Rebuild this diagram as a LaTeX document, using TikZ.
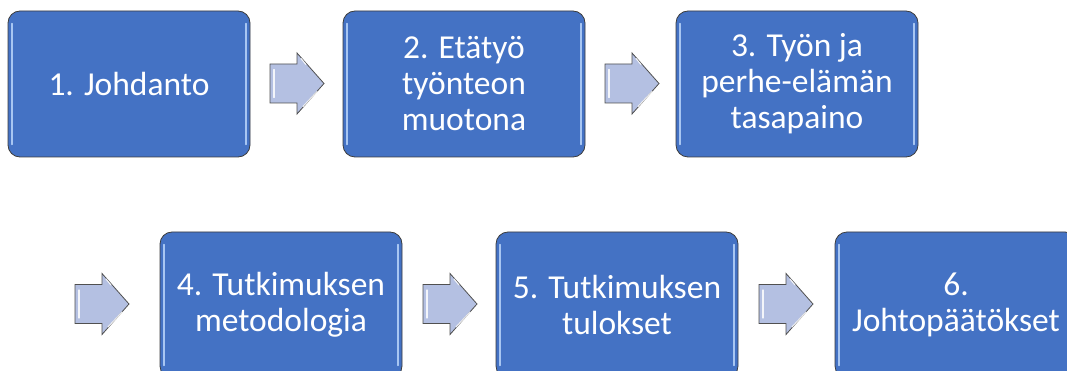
\documentclass[tikz,border=0pt]{standalone}
\usepackage{fontspec}
\setmainfont{Carlito}
\definecolor{boxblue}{HTML}{4472C4}
\definecolor{boxedge}{HTML}{3C3C3C}
\definecolor{hlblue}{HTML}{A8C6F2}
\definecolor{arrfill}{HTML}{B4C0E2}
\definecolor{arredge}{HTML}{505050}
\tikzset{
  stagebox/.style={draw=boxedge, fill=boxblue, line width=0.8pt, rounded corners=12pt,
    minimum width=242pt, minimum height=146pt, inner sep=0pt, text=white,
    align=center, font=\fontsize{33.5}{36}\selectfont},
  hl/.style={draw=hlblue, line width=1.6pt, line cap=round},
  arrowbody/.style={fill=arrfill, draw=arredge, line width=0.8pt, line join=miter},
  glint/.style={draw=white, line width=1.1pt, line cap=round, opacity=0.85},
}
\newcommand{\boxhl}[1]{%
  \draw[hl] ([xshift=4.5pt,yshift=-13pt]#1.north west) -- ([xshift=4.5pt,yshift=13pt]#1.south west);
  \draw[hl] ([xshift=-4.5pt,yshift=-13pt]#1.north east) -- ([xshift=-4.5pt,yshift=13pt]#1.south east);
}
\newcommand{\blockarrow}[3]{%
  \coordinate (#1) at (#2,#3);
  \draw[arrowbody] (#1) ++(0,-19.5) -- ++(27,0) -- ++(0,-11) -- ++(27,30.5) -- ++(-27,30.5) -- ++(0,-11) -- ++(-27,0) -- cycle;
  \draw[glint] (#1) ++(4,-14) -- ++(0,28);
  \draw[glint] (#1) ++(33,23) -- ++(14,-15);
  \draw[glint] (#1) ++(31,-25) -- ++(5,6);
}
\begin{document}
\begin{tikzpicture}[x=1pt,y=-1pt]
\useasboundingbox (0,0) rectangle (1067,371);
\node[stagebox] (b1) at (129,84) {1. Johdanto};
\node[stagebox] (b2) at (464,84) {2. Etätyö\\työnteon\\muotona};
\node[stagebox] (b3) at (797,84) {3. Työn ja\\perhe-elämän\\tasapaino};
\node[stagebox] (b4) at (281,305) {4. Tutkimuksen\\metodologia};
\node[stagebox] (b5) at (617,305) {5. Tutkimuksen\\tulokset};
\node[stagebox] (b6) at (956,305) {6.\\Johtopäätökset};
\boxhl{b1}\boxhl{b2}\boxhl{b3}\boxhl{b4}\boxhl{b5}\boxhl{b6}
\blockarrow{a1}{270}{83.5}
\blockarrow{a2}{605}{83.5}
\blockarrow{a3}{75}{304}
\blockarrow{a4}{423}{304}
\blockarrow{a5}{759}{304}
\end{tikzpicture}
\end{document}
